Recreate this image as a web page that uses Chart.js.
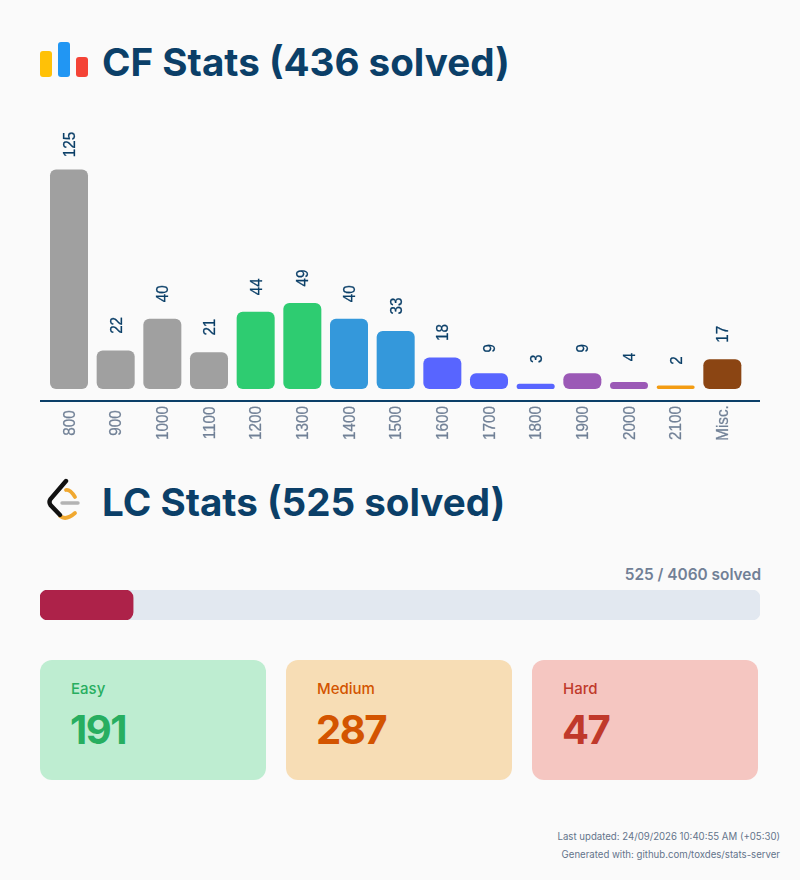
<!DOCTYPE html>
<html><head><meta charset="utf-8">
<script src="https://cdn.jsdelivr.net/npm/chart.js@4"></script>
<style>
html,body{margin:0;padding:0;background:#fafafa;}
body{width:800px;height:880px;position:relative;overflow:hidden;font-family:Inter,sans-serif;}
.abs{position:absolute;}
h1{position:absolute;left:102px;margin:0;font:700 38.6px/44px Inter,sans-serif;color:#0b3f68;white-space:nowrap;}
.card{position:absolute;top:660px;width:226px;height:120px;border-radius:12px;}
.card .l{position:absolute;left:31px;top:19px;font:500 15px/20px Inter,sans-serif;}
.card .v{position:absolute;left:30px;top:46px;font:700 40px/48px Inter,sans-serif;letter-spacing:-1.5px;}
.foot{position:absolute;right:20px;font:400 9.65px/14px Inter,sans-serif;color:#64748b;white-space:nowrap;}
</style></head><body>
<svg class="abs" style="left:40px;top:40px" width="48" height="40" viewBox="0 0 48 40">
<rect x="0" y="11" width="12" height="26" rx="3" fill="#ffc107"/>
<rect x="18" y="2" width="12" height="35" rx="3" fill="#2196f3"/>
<rect x="36" y="17" width="12" height="20" rx="3" fill="#f44336"/>
</svg>
<h1 style="top:40px">CF Stats (436 solved)</h1>
<canvas id="cf" class="abs" width="720" height="330" style="left:40px;top:120px"></canvas>
<svg class="abs" style="left:40px;top:475px;filter:blur(0.5px)" width="50" height="50" viewBox="0 0 50 50" fill="none">
<path d="M26 15 Q30 14 35 22" stroke="#f0a830" stroke-width="3.8" stroke-linecap="round"/>
<path d="M20 41 Q26 46 35 38" stroke="#f0a830" stroke-width="3.8" stroke-linecap="round"/>
<path d="M26 6 L10.5 24 Q8.5 27 10.5 30 L20 40" stroke="#111" stroke-width="4.4" stroke-linecap="round"/>
<path d="M22 28 H38" stroke="#b3b3b3" stroke-width="3.4" stroke-linecap="round"/>
</svg>
<h1 style="top:480px">LC Stats (525 solved)</h1>
<div class="abs" style="right:39px;top:565px;font:600 15.4px/20px Inter,sans-serif;color:#718096;">525 / 4060 solved</div>
<canvas id="lc" class="abs" width="720" height="30" style="left:40px;top:590px"></canvas>
<div class="card" style="left:40px;background:#beedd1"><div class="l" style="color:#27ae60" id="l0"></div><div class="v" style="color:#27ae60" id="v0"></div></div>
<div class="card" style="left:286px;background:#f7ddb5"><div class="l" style="color:#d35400" id="l1"></div><div class="v" style="color:#d35400" id="v1"></div></div>
<div class="card" style="left:532px;background:#f5c6c1"><div class="l" style="color:#c0392b" id="l2"></div><div class="v" style="color:#c0392b" id="v2"></div></div>
<div class="foot" style="top:830px">Last updated: 24/09/2026 10:40:55 AM (+05:30)</div>
<div class="foot" style="top:848px">Generated with: github.com/toxdes/stats-server</div>
<script>
const ratingLabels = ["800","900","1000","1100","1200","1300","1400","1500","1600","1700","1800","1900","2000","2100","Misc."];
const ratingCounts = [125,22,40,21,44,49,40,33,18,9,3,9,4,2,17];
const barColors = ["#a0a0a0","#a0a0a0","#a0a0a0","#a0a0a0","#2ecc71","#2ecc71","#3498db","#3498db","#5865ff","#5865ff","#5865ff","#9b59b6","#9b59b6","#f39c12","#8b4513"];
const lcSolved = 525;
const lcTotal = 4060;
const lcLabels = ["Easy","Medium","Hard"];
const lcCounts = [191,287,47];
lcLabels.forEach((t,i)=>{document.getElementById('l'+i).textContent=t;document.getElementById('v'+i).textContent=lcCounts[i];});

Chart.defaults.animation=false;
const TICK_FONT='16.5px "Liberation Sans"';
function rotated(ctx,text,x,y,color){
  ctx.save();ctx.translate(x,y);ctx.rotate(-Math.PI/2);ctx.scale(0.92,1);
  ctx.fillStyle=color;ctx.strokeStyle=color;ctx.lineWidth=0.25;
  ctx.fillText(text,0,0);ctx.strokeText(text,0,0);ctx.restore();
}
const rotatedText={id:'rotatedText',afterDatasetsDraw(chart){
  const {ctx,scales:{x}}=chart;
  const meta=chart.getDatasetMeta(0);
  ctx.save();
  ctx.strokeStyle='#0b3f68';ctx.lineWidth=2;
  ctx.beginPath();ctx.moveTo(0,chart.chartArea.bottom);ctx.lineTo(chart.width,chart.chartArea.bottom);ctx.stroke();
  ctx.font=TICK_FONT;ctx.textAlign='center';ctx.textBaseline='middle';
  ratingLabels.forEach((lab,i)=>{
    const px=x.getPixelForTick(i);
    rotated(ctx,lab,px+1,chart.chartArea.bottom+22,'#718096');
    rotated(ctx,String(ratingCounts[i]),px+1.5,meta.data[i].y-25,'#0b3f68');
  });
  ctx.restore();
}};
new Chart(document.getElementById('cf'),{
  type:'bar',
  data:{labels:ratingLabels,datasets:[{data:ratingCounts,backgroundColor:barColors,borderRadius:6,borderSkipped:false,categoryPercentage:1,barPercentage:38/46.67}]},
  options:{responsive:false,maintainAspectRatio:false,
    layout:{padding:{left:5.67,right:14.33,top:0,bottom:41}},
    plugins:{legend:{display:false},tooltip:{enabled:false}},
    scales:{
      x:{display:true,grid:{display:false},border:{display:false},ticks:{display:false}},
      y:{display:false,min:-6.8,max:153.2}
    }},
  plugins:[rotatedText]
});
new Chart(document.getElementById('lc'),{
  type:'bar',
  data:{labels:["solved"],datasets:[
    {data:[lcSolved],backgroundColor:'#ad2249',borderRadius:8,borderSkipped:false,order:1},
    {data:[lcTotal],backgroundColor:'#e2e8f0',borderRadius:8,borderSkipped:false,order:2}
  ]},
  options:{responsive:false,maintainAspectRatio:false,indexAxis:'y',
    datasets:{bar:{grouped:false,categoryPercentage:1,barPercentage:1}},
    plugins:{legend:{display:false},tooltip:{enabled:false}},
    scales:{x:{display:false,min:0,max:lcTotal},y:{display:false}}}
});
</script>
</body></html>
